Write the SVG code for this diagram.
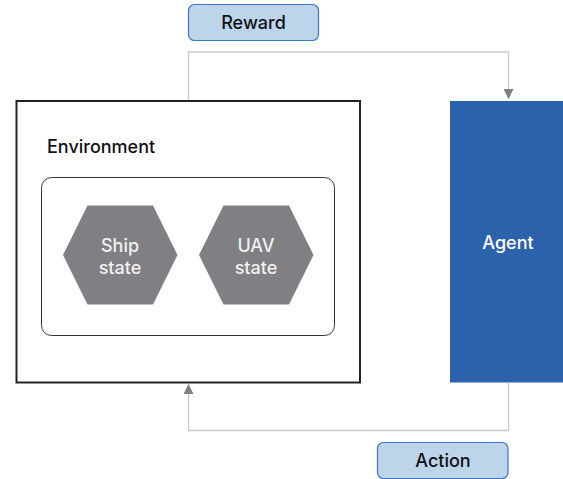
<svg xmlns="http://www.w3.org/2000/svg" width="563" height="479" viewBox="0 0 563 479">
  <style>
    .lbl { font-family: Inter, "Liberation Sans", sans-serif; font-weight: 500; text-anchor: middle; }
    .tag rect { fill: #bcd5ea; stroke: #3d74c4; stroke-width: 1.2; }
    .tag text { fill: #111; font-size: 18px; }
    .hex polygon { fill: #808084; }
    .hex text { fill: #f0f0f0; font-size: 18px; }
    .conn { fill: none; stroke: #c9c9c9; stroke-width: 1.3; }
  </style>
  <defs>
    <marker id="arrow" viewBox="0 0 10 10" refX="10" refY="5" markerWidth="10" markerHeight="10" markerUnits="userSpaceOnUse" orient="auto">
      <path d="M0,0 L10,5 L0,10 Z" fill="#808080"/>
    </marker>
  </defs>
  <rect width="563" height="479" fill="#ffffff"/>

  <g id="connectors">
    <!-- reward: environment -> agent -->
    <path class="conn" d="M188.5,100 V52 H508.5 V99" marker-end="url(#arrow)"/>
    <!-- action: agent -> environment -->
    <path class="conn" d="M508.5,383 V430.5 H188.5 V384" marker-end="url(#arrow)"/>
  </g>

  <g id="reward" class="tag">
    <rect x="188.5" y="4.5" width="130" height="36" rx="6"/>
    <text class="lbl" x="253.5" y="29">Reward</text>
  </g>

  <g id="environment">
    <rect x="16.5" y="101" width="343.5" height="281.5" fill="#ffffff" stroke="#222222" stroke-width="2"/>
    <text class="lbl" x="47" y="153" font-size="18" fill="#111" style="text-anchor:start">Environment</text>
    <rect x="41.5" y="177.5" width="293" height="158" rx="10" fill="#ffffff" stroke="#333333" stroke-width="1"/>
  </g>

  <g id="ship-state" class="hex">
    <polygon points="87.5,205.5 153,205.5 177.5,255 153,304.5 87.5,304.5 63,255"/>
    <text class="lbl" x="120" y="252">Ship</text>
    <text class="lbl" x="120" y="274">state</text>
  </g>

  <g id="uav-state" class="hex">
    <polygon points="223.5,205.5 289,205.5 313.5,255 289,304.5 223.5,304.5 199,255"/>
    <text class="lbl" x="256" y="252">UAV</text>
    <text class="lbl" x="256" y="274">state</text>
  </g>

  <g id="agent">
    <rect x="450" y="101" width="113" height="281.5" fill="#2c62ab"/>
    <text class="lbl" x="508" y="249" font-size="18" fill="#ffffff">Agent</text>
  </g>

  <g id="action" class="tag">
    <rect x="377.5" y="442.5" width="130.5" height="36" rx="6"/>
    <text class="lbl" x="443" y="467">Action</text>
  </g>
</svg>
